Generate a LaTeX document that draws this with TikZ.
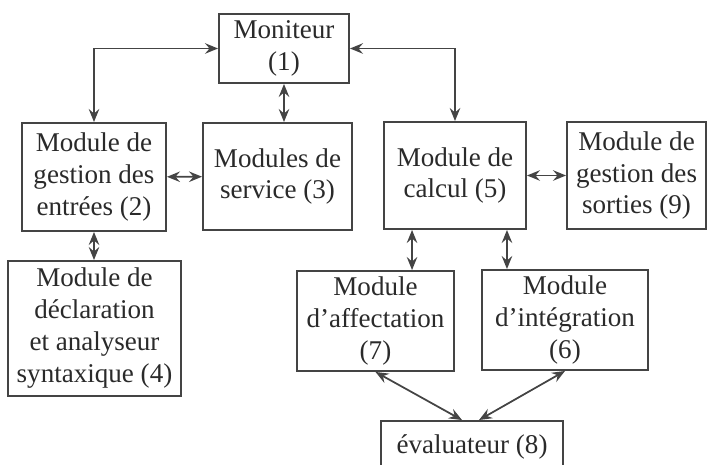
\documentclass[tikz,border=0pt]{standalone}
\usepackage{fontspec}
\setmainfont{Liberation Serif}
\usepackage{xcolor}
\definecolor{Ink}{HTML}{2A2A2A}
\definecolor{Wire}{HTML}{444444}
\usetikzlibrary{arrows.meta, positioning, calc}

\begin{document}
\begin{tikzpicture}[>={Stealth[length=2.6mm, width=2.1mm, inset=0.9mm]},
  modbox/.style={rectangle, draw=Wire, line width=1.1pt, align=center, inner sep=2pt,
                 font=\fontsize{15.4}{18.2}\selectfont, text=Ink},
  arr/.style={<->, line width=1pt, color=Wire}
]
\useasboundingbox (0,0) rectangle (14.18,9.30);
\clip (0,0) rectangle (14.18,9.30);

%% ---- Top: monitor ----
\node[modbox, minimum width=2.6cm, minimum height=1.38cm] (mon) at (5.68, 8.33) {Moniteur\\(1)};

%% ---- Middle row ----
\node[modbox, minimum width=2.88cm, minimum height=2.16cm] (entrees) at ( 1.88, 5.76) {Module de\\gestion des\\entrées (2)};
\node[modbox, minimum width=2.98cm, minimum height=2.14cm] (service) at ( 5.55, 5.77) {Modules de\\service (3)};
\node[modbox, minimum width=2.84cm, minimum height=2.14cm] (calcul)  at ( 9.10, 5.79) {Module de\\calcul (5)};
\node[modbox, minimum width=2.78cm, minimum height=2.14cm] (sorties) at (12.73, 5.79) {Module de\\gestion des\\sorties (9)};

%% ---- Lower row ----
\node[modbox, minimum width=3.46cm, minimum height=2.70cm] (decl)   at ( 1.89, 2.73) {Module de\\déclaration\\et analyseur\\syntaxique (4)};
\node[modbox, minimum width=3.14cm, minimum height=2.0cm]  (affect) at ( 7.51, 2.88) {Module\\d’affectation\\(7)};
\node[modbox, minimum width=3.32cm, minimum height=2.0cm]  (integ)  at (11.30, 2.90) {Module\\d’intégration\\(6)};

%% ---- Bottom: evaluator (cut by the page edge) ----
\node[modbox, minimum width=3.64cm, minimum height=1.04cm] (eval) at (9.44, 0.36) {évaluateur (8)};

%% ---- Monitor links ----
\draw[arr] (entrees.north) |- (mon.west);
\draw[arr] (mon.east) -| (calcul.north);
\draw[arr] (mon.south) -- (mon.south |- service.north);

%% ---- Side links ----
\draw[arr] (entrees) -- (service);
\draw[arr] (calcul)  -- (sorties);
\draw[arr] (entrees.south) -- (entrees.south |- decl.north);

%% ---- Calcul down to its sub-modules ----
\coordinate (ca) at ([xshift=0.58cm]calcul.south west);
\coordinate (ci) at ([xshift=-0.40cm]calcul.south east);
\draw[arr] (ca) -- (ca |- affect.north);
\draw[arr] (ci) -- (ci |- integ.north);

%% ---- Evaluator links ----
\draw[arr] (affect.south) -- ([xshift=-0.2cm]eval.north);
\draw[arr] (integ.south)  -- ([xshift=0.14cm]eval.north);

\end{tikzpicture}
\end{document}
